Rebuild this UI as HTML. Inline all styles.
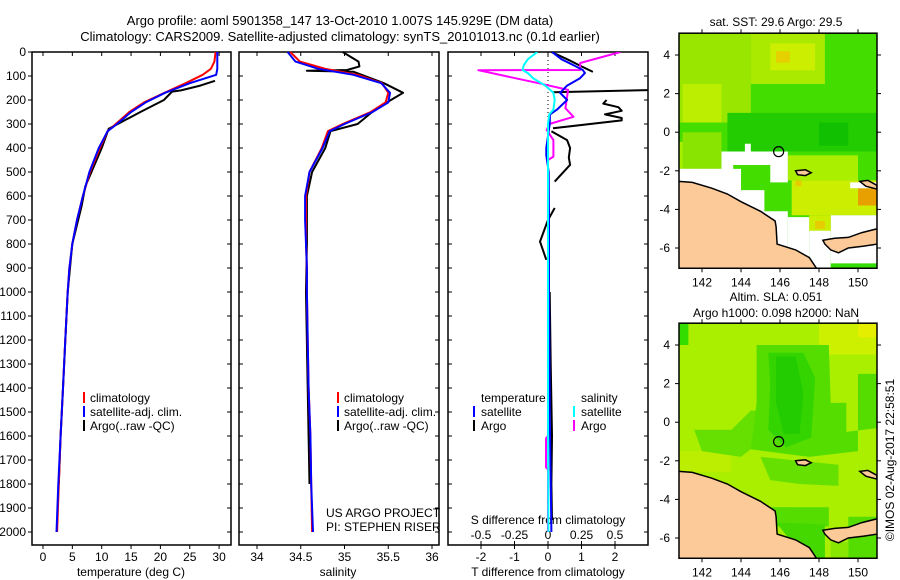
<!DOCTYPE html>
<html><head><meta charset="utf-8">
<style>
html,body{margin:0;padding:0;background:#fff;}
svg{display:block;font-family:"Liberation Sans",sans-serif;}
text{font-size:12px;fill:#000;}
</style></head>
<body>
<svg id="fig" width="900" height="580" viewBox="0 0 900 580" xmlns="http://www.w3.org/2000/svg">
<text x="340" y="25" text-anchor="middle" style="font-size:13px">Argo profile: aoml 5901358_147 13-Oct-2010 1.007S 145.929E (DM data)</text>
<text x="340" y="41" text-anchor="middle" style="font-size:13px">Climatology: CARS2009. Satellite-adjusted climatology: synTS_20101013.nc (0.1d earlier)</text>

<g id="p1"></g>
<g id="p2"></g>
<g id="p3"></g>

<text x="776" y="26" text-anchor="middle">sat. SST: 29.6 Argo: 29.5</text>
<g id="m1"></g>
<text x="776" y="301" text-anchor="middle">Altim. SLA: 0.051</text>
<text x="776" y="317" text-anchor="middle">Argo h1000: 0.098 h2000: NaN</text>
<g id="m2"></g>
<text transform="translate(894,460) rotate(-90)" text-anchor="middle">©IMOS 02-Aug-2017 22:58:51</text>
</svg>
<script>
// ---------- data ----------
const depthTicks=[0,100,200,300,400,500,600,700,800,900,1000,1100,1200,1300,1400,1500,1600,1700,1800,1900,2000];
const tempTicks=[0,5,10,15,20,25,30];
const salTicks=[34,34.5,35,35.5,36];
const tdiffTicks=[-2,-1,0,1,2];
const sdiffTicks=[-0.5,-0.25,0,0.25,0.5];
const sdiffLabels=["-0.5","-0.25","0","0.25","0.5"];

const climDepth=[0,40,70,95,130,170,210,250,300,330,400,500,600,700,800,900,1000,1200,1400,1600,1800,2000];
const climTemp=[29.4,29.2,28.6,27.2,24.3,20.7,17.2,14.7,12.4,11.0,9.7,8.0,6.8,5.8,5.0,4.5,4.2,3.8,3.4,3.0,2.7,2.4];
const satTemp=[29.7,29.7,29.7,29.5,25.0,20.8,17.5,15.0,12.6,11.0,9.5,7.9,6.8,5.8,5.0,4.5,4.2,3.8,3.4,3.0,2.6,2.3];
const argoDepth=[120,140,160,165,200,250,290,320,360,400,480,560,640,800,1000,1200,1400,1600,1800];
const argoTemp=[29.3,26.8,23.5,22.0,20.6,16.6,13.5,11.2,10.6,10.0,8.6,7.2,6.6,5.0,4.2,3.8,3.4,3.0,2.7];

const climSal=[34.38,34.49,34.78,35.15,35.43,35.5,35.47,35.3,34.98,34.81,34.74,34.6,34.56,34.56,34.56,34.57,34.57,34.58,34.59,34.61,34.62,34.63];
const satSal=[34.35,34.44,34.7,35.1,35.42,35.52,35.5,35.32,35.0,34.83,34.75,34.6,34.55,34.55,34.56,34.57,34.57,34.58,34.59,34.61,34.62,34.64];
const argoSalDepth=[0,40,60,75,78,82,130,170,200,240,300,330,400,500,600,800,1000,1400,1800];
const argoSal=[34.98,35.16,35.17,35.03,34.57,35.1,35.45,35.67,35.53,35.35,35.15,34.84,34.78,34.63,34.57,34.57,34.56,34.58,34.6];

const diffDepth=[0,30,54,75,88,110,140,170,200,240,260,300,400,430,500,700,1000,1500,2000];
const tSatDiff=[0.12,0.4,0.75,1.04,1.1,0.95,0.57,0.36,0.57,0.27,0.06,0.05,-0.05,-0.05,0.02,0.03,0.03,0.05,0.1];
const sSatDiff=[-0.08,-0.15,-0.18,-0.19,-0.15,-0.11,-0.02,0.04,0.05,0.04,0.01,0.0,0.0,0.0,0.0,0.0,0.0,0.0,0.003];
// NaN marks a gap in the Argo record
const argoDiffDepth=[0,30,60,83,NaN,168,158,NaN,200,215,230,245,260,275,285,318,NaN,330,367,400,440,470,540,NaN,650,700,790,866,NaN,1000,1300,1600,1800,1950];
const tArgoDiff=[0.1,0.57,1.0,1.34,NaN,0.15,3.2,NaN,1.75,1.65,2.1,2.2,1.7,2.2,2.2,0.15,NaN,0.1,0.57,0.66,0.62,0.66,0.2,NaN,0.2,0.0,-0.24,-0.05,NaN,0.05,0.08,0.12,0.1,0.12];
const sArgoDepth=[0,46,75,76,130,158,234,270,300,325,367,436,450,800,1600,1610,1730,1740,2000];
const sArgoDiff=[0.54,0.24,0.24,-0.52,-0.07,0.15,0.13,0.19,0.01,-0.01,0.04,0.04,0.0,0.0,0.0,-0.015,-0.015,0.0,0.0];

// ---------- scales ----------
const yD=d=>52+d*0.24;
const xT=t=>43+t*5.87;
const xS=s=>257+(s-34)*87.5;
const xTd=v=>548+v*33.5;
const xSd=v=>548+v*134;
const NS='http://www.w3.org/2000/svg';
function mk(parent,tag,attrs,txt){const e=document.createElementNS(NS,tag);for(const k in attrs)e.setAttribute(k,attrs[k]);if(txt!==undefined)e.textContent=txt;parent.appendChild(e);return e;}
function line(parent,xs,ys,fx,color,w,name){
  let d='',pen=false;
  xs.forEach((v,i)=>{
    if(isNaN(v)||isNaN(ys[i])){pen=false;return;}
    d+=(pen?'L':'M')+fx(v).toFixed(1)+','+yD(ys[i]).toFixed(1);
    pen=true;
  });
  const e=mk(parent,'path',{d:d,fill:'none',stroke:color,'stroke-width':w,'stroke-linejoin':'round'});
  
  
  return e;
}
function frame(g,x0,x1,name){
  const r=mk(g,'rect',{x:x0,y:52,width:x1-x0,height:493,fill:'none',stroke:'#000','stroke-width':1.5});
  
  
  depthTicks.forEach(d=>{mk(g,'line',{x1:x1-4,x2:x1,y1:yD(d),y2:yD(d),stroke:'#000'});});
}
// panel 1
const p1=document.getElementById('p1');
frame(p1,32,231,'temperature-axes-frame');
depthTicks.forEach(d=>{
  mk(p1,'line',{x1:28,x2:32,y1:yD(d),y2:yD(d),stroke:'#000'});
  const t=mk(p1,'text',{x:26,y:yD(d)+4,'text-anchor':'end'},String(d));
  
  
});
tempTicks.forEach(v=>{
  mk(p1,'line',{x1:xT(v),x2:xT(v),y1:545,y2:549,stroke:'#000'});
  mk(p1,'line',{x1:xT(v),x2:xT(v),y1:52,y2:56,stroke:'#000'});
  const t=mk(p1,'text',{x:xT(v),y:561,'text-anchor':'middle'},String(v));
  
  
});
mk(p1,'text',{x:131,y:576,'text-anchor':'middle'},'temperature (deg C)');
line(p1,argoTemp,argoDepth,xT,'#000',2,'argo-temperature-line');
line(p1,climTemp,climDepth,xT,'#f00',2,'clim-temperature-line');
line(p1,satTemp,climDepth,xT,'#00f',2,'sat-temperature-line');
// panel 2
const p2=document.getElementById('p2');
frame(p2,239,439,'salinity-axes-frame');
depthTicks.forEach(d=>{mk(p2,'line',{x1:239,x2:243,y1:yD(d),y2:yD(d),stroke:'#000'});});
salTicks.forEach(v=>{
  mk(p2,'line',{x1:xS(v),x2:xS(v),y1:545,y2:549,stroke:'#000'});
  mk(p2,'line',{x1:xS(v),x2:xS(v),y1:52,y2:56,stroke:'#000'});
  const t=mk(p2,'text',{x:xS(v),y:561,'text-anchor':'middle'},String(v));
  
  
});
mk(p2,'text',{x:338,y:576,'text-anchor':'middle'},'salinity');
line(p2,argoSal,argoSalDepth,xS,'#000',2,'argo-salinity-line');
line(p2,climSal,climDepth,xS,'#f00',2,'clim-salinity-line');
line(p2,satSal,climDepth,xS,'#00f',2,'sat-salinity-line');
mk(p2,'text',{x:326,y:517},'US ARGO PROJECT');
mk(p2,'text',{x:326,y:531},'PI: STEPHEN RISER');
[[p1,83],[p2,337]].forEach(([g,x])=>{
  [['#f00','climatology'],['#00f','satellite-adj. clim.'],['#000','Argo(..raw -QC)']].forEach((it,i)=>{
    const y=398+i*14;
    mk(g,'rect',{x:x,y:y-6,width:2,height:11,fill:it[0]});
    const t=mk(g,'text',{x:x+7,y:y+4},it[1]);
    
    
  });
});
// panel 3
const p3=document.getElementById('p3');
const cp=mk(p3,'clipPath',{id:'c3'});mk(cp,'rect',{x:448,y:52,width:200,height:493});
frame(p3,448,648,'difference-axes-frame');
depthTicks.forEach(d=>{mk(p3,'line',{x1:448,x2:452,y1:yD(d),y2:yD(d),stroke:'#000'});});
mk(p3,'line',{x1:548,x2:548,y1:52,y2:yD(330),stroke:'#000','stroke-dasharray':'1,3'});
tdiffTicks.forEach(v=>{
  mk(p3,'line',{x1:xTd(v),x2:xTd(v),y1:545,y2:549,stroke:'#000'});
  mk(p3,'line',{x1:xTd(v),x2:xTd(v),y1:52,y2:56,stroke:'#000'});
  const t=mk(p3,'text',{x:xTd(v),y:561,'text-anchor':'middle'},v<0?'-'+Math.abs(v):String(v));
  
  
});
sdiffTicks.forEach((v,i)=>{
  mk(p3,'line',{x1:xSd(v),x2:xSd(v),y1:541,y2:545,stroke:'#000'});
  const t=mk(p3,'text',{x:xSd(v),y:539,'text-anchor':'middle'},sdiffLabels[i]);
  
  
});
mk(p3,'text',{x:548,y:524,'text-anchor':'middle'},'S difference from climatology');
mk(p3,'text',{x:548,y:576,'text-anchor':'middle'},'T difference from climatology');
const g3=mk(p3,'g',{'clip-path':'url(#c3)'});
line(g3,tArgoDiff,argoDiffDepth,xTd,'#000',2,'argo-t-diff-line');
line(g3,sArgoDiff,sArgoDepth,xSd,'#f0f',2,'argo-s-diff-line');
line(g3,tSatDiff,diffDepth,xTd,'#00f',2,'sat-t-diff-line');
line(g3,sSatDiff,diffDepth,xSd,'#0ff',2,'sat-s-diff-line');
mk(p3,'text',{x:481,y:402},'temperature');
mk(p3,'text',{x:581,y:402},'salinity');
[[473,'#00f','satellite',416],[473,'#000','Argo',430],[573,'#0ff','satellite',416],[573,'#f0f','Argo',430]].forEach(it=>{
  mk(p3,'rect',{x:it[0],y:it[3]-10,width:2,height:11,fill:it[1]});
  const t=mk(p3,'text',{x:it[0]+8,y:it[3]},it[2]);
  
  
});

// ---------- maps ----------
const lonTicks=[142,144,146,148,150];
const latTicks=[4,2,0,-2,-4,-6];
const landMain=[[140.8,-2.55],[141.5,-2.6],[142.5,-2.9],[143.3,-3.2],[144,-3.6],[145,-4.1],[145.75,-4.6],[145.8,-4.9],[145.85,-5.8],[146.8,-6.1],[147.5,-6.5],[147.9,-7.1],[140.8,-7.1]];
const landNB=[[148.2,-5.6],[148.8,-5.5],[149.5,-5.45],[150.2,-5.2],[151,-5.0],[151,-5.8],[150.3,-5.9],[149.5,-6.0],[149,-6.25],[148.6,-6.1],[148.3,-5.8]];
const landI1=[[146.8,-2.0],[147.3,-1.95],[147.6,-2.1],[147.3,-2.25],[146.9,-2.2]];
const landI2=[[150.1,-2.55],[150.5,-2.5],[150.97,-2.75],[150.97,-2.95],[150.4,-2.8]];
function drawMap(g,top,name,fills){
  const X=lon=>702+(lon-142)*19.5, Y=lat=>top+(4-lat)*19.3;
  const cid='clip'+name;
  const cp=mk(g,'clipPath',{id:cid});mk(cp,'rect',{x:679,y:Y(5.13),width:198,height:Y(-7.05)-Y(5.13)});
  const inner=mk(g,'g',{'clip-path':'url(#'+cid+')'});
  fills.forEach(f=>{
    const pts=f[1].map(p=>X(p[0]).toFixed(1)+','+Y(p[1]).toFixed(1)).join(' ');
    mk(inner,'polygon',{points:pts,fill:f[0]});
  });
  [landMain,landNB,landI1,landI2].forEach(l=>{
    const pts=l.map(p=>X(p[0]).toFixed(1)+','+Y(p[1]).toFixed(1)).join(' ');
    const e=mk(inner,'polygon',{points:pts,fill:'#fcca98',stroke:'#000','stroke-width':1.5});
    
    
  });
  const c=mk(inner,'circle',{cx:X(145.929),cy:Y(-1.007),r:5,fill:'none',stroke:'#000','stroke-width':1.2});
  
  
  const fr=mk(g,'rect',{x:679,y:Y(5.13),width:198,height:Y(-7.05)-Y(5.13),fill:'none',stroke:'#000','stroke-width':1.5});
  
  
  lonTicks.forEach(v=>{
    mk(g,'line',{x1:X(v),x2:X(v),y1:Y(-7.05),y2:Y(-7.05)+4,stroke:'#000'});
    mk(g,'line',{x1:X(v),x2:X(v),y1:Y(5.13),y2:Y(5.13)-4,stroke:'#000'});
    const t=mk(g,'text',{x:X(v),y:Y(-7.05)+18,'text-anchor':'middle'},String(v));
    
    
  });
  latTicks.forEach(v=>{
    mk(g,'line',{x1:675,x2:679,y1:Y(v),y2:Y(v),stroke:'#000'});
    mk(g,'line',{x1:877,x2:881,y1:Y(v),y2:Y(v),stroke:'#000'});
    const t=mk(g,'text',{x:670,y:Y(v)+4,'text-anchor':'end'},String(v));
    
    
  });
}
const R=(a,b,c,d)=>[[a,c],[b,c],[b,d],[a,d]];
drawMap(document.getElementById('m1'),55,'sst-map',[
  ['#44dd00',R(140.5,151.5,6,-7.5)],
  ['#99e600',R(140.8,144.5,5.2,0.5)],
  ['#bbee00',R(141,143,2.5,0.5)],
  ['#aaea00',R(144.5,148.3,5.2,2.5)],
  ['#ccee00',R(145.5,147.8,4.6,3.2)],
  ['#e6d000',R(145.8,146.5,4.2,3.6)],
  ['#aaee00',R(140.8,141.5,-0.5,-1.9)],
  ['#88e400',R(141,143,0,-1.9)],
  ['#22cc00',R(143.3,151,1,-1)],
  ['#11c000',R(148,149.5,0.5,-0.7)],
  ['#aaee00',R(146.4,150,-1.2,-2.5)],
  ['#ccee00',R(146.6,151,-2.5,-4.3)],
  ['#e8a000',R(150,151,-2.9,-3.8)],
  ['#e6cc00',R(146.8,147.1,-2.5,-2.8)],
  ['#fff',[[140.8,-1.9],[143,-1.9],[143,-1.0],[144.2,-1.0],[144.2,-0.6],[144.5,-0.6],[144.5,-1.0],[146.4,-1.0],[146.4,-2.6],[145.5,-2.6],[145.5,-1.7],[143.6,-1.7],[143.6,-2.0],[140.8,-2.0]]],
  ['#fff',R(140.8,144,-1.9,-7.1)],
  ['#fff',R(143.9,145.2,-3.0,-7.1)],
  ['#fff',R(145.2,146.4,-4.1,-7.1)],
  ['#fff',R(146.4,147.5,-4.4,-7.1)],
  ['#fff',R(147.5,148.6,-5.1,-7.1)],
  ['#fff',R(148.6,151,-4.3,-7.1)],
  ['#fff',R(149.6,151,-2.6,-2.9)],
  ['#ccee00',R(147.5,148.6,-4.3,-5.1)],
  ['#e6cc00',R(147.8,148.3,-4.6,-5.0)],
  ['#33dd00',R(148.6,151,-6.8,-7.1)]
]);
drawMap(document.getElementById('m2'),345,'sla-map',[
  ['#aaee00',R(140.5,151.5,6,-7.5)],
  ['#ccf000',R(148,151,5.2,3.5)],
  ['#e6ee00',R(150,151,5.2,4.4)],
  ['#33dd00',R(140.8,141.3,5.2,4)],
  ['#bbee00',R(140.8,143.5,-1.5,-2.6)],
  ['#66e000',[[141.6,-0.4],[143.5,-0.4],[144.5,0.6],[145,0.6],[145,-1],[144,-1.8],[142,-1.5]]],
  ['#55dd00',[[144.8,4],[148.5,4],[148.6,1],[149.4,1],[149.4,-0.5],[151,-0.3],[151,2.5],[150,2.5],[150,-1.5],[147.5,-1.8],[146,-1.6],[144.5,-1.4],[144.8,1]]],
  ['#33d400',[[145.4,3.6],[147.2,3.6],[147.8,2.3],[147.6,-0.8],[146.3,-1.3],[145.4,-0.4],[145.5,2]]],
  ['#22cc00',[[145.8,3.4],[146.8,3.4],[147.2,1.5],[147,-0.6],[146.2,-0.6],[145.8,1]]],
  ['#66e000',[[145,-1.8],[149,-2.2],[149,-3.3],[147,-3.2],[145.5,-3]]],
  ['#55dd00',R(145,148.5,-4.4,-5.4)],
  ['#44d800',[[145.8,-5.2],[148.3,-5.3],[148.3,-7.1],[147.6,-7.1],[146.6,-6.2]]],
  ['#55dd00',R(149.5,151,-4.9,-7.1)],
  ['#88e600',R(148.6,149.5,-6.2,-7.1)],
  ['#aaee00',R(146.5,149,-3.3,-4.4)]
]);
</script>
</body></html>
